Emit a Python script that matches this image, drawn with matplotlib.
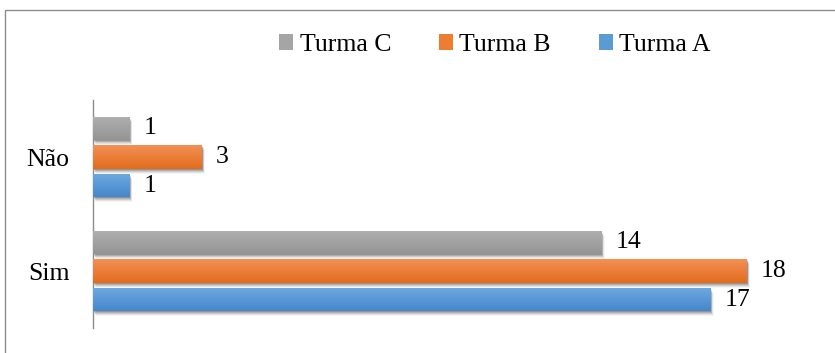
import numpy as np
import matplotlib
matplotlib.use("Agg")
import matplotlib.pyplot as plt
import matplotlib.transforms as mtransforms
from matplotlib.colors import LinearSegmentedColormap
from matplotlib.patches import Rectangle

# dados
categorias = ["Sim", "Não"]
turmas = ["Turma A", "Turma B", "Turma C"]
turma_a = [17, 1]
turma_b = [18, 3]
turma_c = [14, 1]
valores = [turma_a, turma_b, turma_c]

cores = ["#5B9BD5", "#ED7D31", "#A5A5A5"]
cores_topo = ["#6EA9E0", "#F29055", "#B0B0B0"]
cores_base = ["#4687CB", "#E36C1B", "#949494"]

plt.rcParams["font.family"] = ["Liberation Serif", "DejaVu Serif"]

W, H = 835, 353
fig = plt.figure(figsize=(W / 100, H / 100), dpi=100)

# borda do grafico (cortada a direita e em baixo)
fig.patches.append(Rectangle((5 / W, -10 / H), 850 / W, (H - 0) / H,
                             transform=fig.transFigure, fill=False,
                             edgecolor="#8C8C8C", linewidth=1.0))

x0, xr = 93, 93 + 36.33 * 20
ax = fig.add_axes([x0 / W, (H - 328) / H, (xr - x0) / W, 228 / H])

y = np.arange(len(categorias))
altura = 0.21
desloc = [-0.25, 0.0, 0.25]

for i in range(3):
    # sombra
    for k, a in zip([1.0, 2.0, 3.0, 4.0, 5.0], [0.16, 0.13, 0.10, 0.07, 0.04]):
        sh = mtransforms.ScaledTranslation(k * 0.6 / 100, -k / 100, fig.dpi_scale_trans)
        ax.barh(y + desloc[i], valores[i], height=altura, color="black",
                alpha=a, transform=ax.transData + sh, zorder=1, linewidth=0)
    bars = ax.barh(y + desloc[i], valores[i], height=altura, color=cores[i],
                   label=turmas[i], zorder=2, linewidth=0)
    cmap = LinearSegmentedColormap.from_list("g%d" % i, [cores_base[i], cores_topo[i]])
    grad = np.linspace(0, 1, 64).reshape(-1, 1)
    for b, v in zip(bars, valores[i]):
        bx, by = b.get_x(), b.get_y()
        im = ax.imshow(grad, extent=[bx, bx + b.get_width(), by, by + b.get_height()],
                       origin="lower", cmap=cmap, aspect="auto", zorder=3,
                       interpolation="bicubic")
        im.set_clip_path(b)
        ax.annotate(str(v), (bx + b.get_width(), by + b.get_height() / 2),
                    textcoords="offset pixels", xytext=(14, 0),
                    ha="left", va="center", fontsize=18.5, color="black")

ax.set_xlim(0, 20)
ax.set_ylim(-0.5, 1.5)
ax.set_yticks(y)
ax.set_yticklabels(categorias, fontsize=18.5)
ax.tick_params(axis="y", length=0, pad=17)
ax.set_xticks([])
for s in ["top", "right", "bottom"]:
    ax.spines[s].set_visible(False)
ax.spines["left"].set_color("#8C8C8C")
ax.spines["left"].set_linewidth(1.0)
ax.set_facecolor("none")

h, l = ax.get_legend_handles_labels()
h, l = h[::-1], l[::-1]
fig.legend(h, l, loc="center", bbox_to_anchor=(495 / W, 1 - 45 / H), ncol=3,
           frameon=False, fontsize=18.5, handlelength=0.55, handleheight=0.55,
           handletextpad=0.25, columnspacing=1.85)

fig.savefig("out.png", dpi=100)
